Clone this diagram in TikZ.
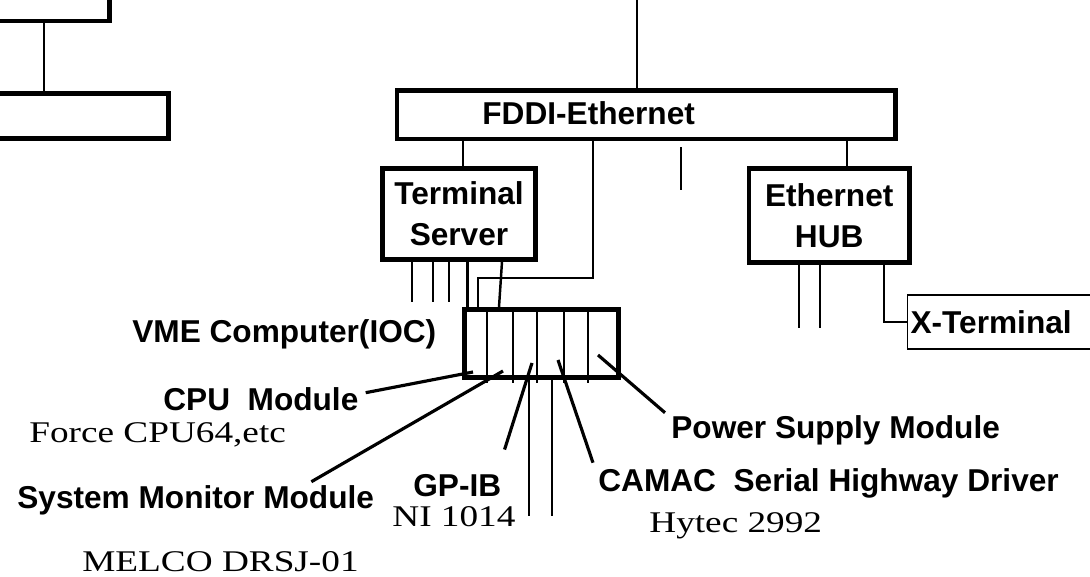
\documentclass[tikz,border=0pt]{standalone}
\usepackage{fontspec}
\newfontfamily\boxfont{Liberation Sans}
\newfontfamily\partfont[FakeStretch=1.24]{Liberation Serif}
\usetikzlibrary{calc}

\begin{document}
\begin{tikzpicture}[
    x=0.02cm, y=-0.02cm,
    unitbox/.style={draw, line width=2.6pt, inner sep=0pt, align=center, font=\boxfont\bfseries\fontsize{18}{23.5}\selectfont},
    termbox/.style={draw, line width=0.7pt, anchor=west, inner xsep=0.06cm, inner ysep=0pt, align=left, font=\boxfont\bfseries\fontsize{18}{22}\selectfont},
    tag/.style={inner sep=0pt, anchor=base west, font=\boxfont\bfseries\fontsize{18}{22}\selectfont},
    model/.style={inner sep=0pt, anchor=base west, font=\partfont\fontsize{17.1}{20}\selectfont},
    wire/.style={line width=1.4pt},
    stubline/.style={line width=0.75pt},
    slotline/.style={line width=1.5pt},
    leaderline/.style={line width=1.8pt}
]
\useasboundingbox (0,0) rectangle (1090,577);
\clip (0,0) rectangle (1090,577);

% Rede existente (cortada)
\node[unitbox, minimum width=3.39cm, minimum height=1.62cm] (hostA) at (24.75,-19.5) {};
\node[unitbox, minimum width=4.57cm, minimum height=0.9cm] (hostB) at (54.25,116) {};
\draw[wire] (hostA.south -| 44,0) -- (hostB.north -| 44,0);

% FDDI
\coordinate (ring) at (637,0);
\node[unitbox, minimum width=9.97cm, minimum height=0.97cm] (fddi) at (646.25,114.75) {};
\node[tag] (fddilabel) at (482,125) {FDDI-Ethernet};
\draw[wire] (ring) -- (fddi.north -| ring);
\draw[stubline] (fddi.south -| 681,0) ++(0,6) -- ++(0,43);

% Terminal Server e HUB
\node[unitbox, minimum width=3.06cm, minimum height=1.82cm] (ts) at (459,214) {Terminal\\Server};
\node[unitbox, minimum width=3.21cm, minimum height=1.88cm] (hub) at (829.25,215.5) {Ethernet\\HUB};
\draw[wire] (fddi.south -| 463,0) -- (ts.north -| 463,0);
\draw[wire] (fddi.south -| 847,0) -- (hub.north -| 847,0);
\foreach \x in {412,433,449} \draw[stubline] (ts.south -| \x,0) -- ++(0,40);

% X-Terminal
\node[termbox, minimum height=1.08cm, text width=3.74cm] (xterm) at (907,322) {X-Terminal};
\foreach \x in {799,820} \draw[stubline] (hub.south -| \x,0) -- ++(0,63);
\draw[stubline] (hub.south -| 884,0) |- (xterm.west);

% VME (IOC)
\node[unitbox, minimum width=3.08cm, minimum height=1.36cm] (vme) at (541.5,343.5) {};
\node[tag] (vmelabel) at (132,343) {VME Computer(IOC)};
\foreach \x in {487,513,537,564,588} \draw[slotline] (vme.north -| \x,0) -- (\x,383);
\draw[wire] (ts.south -| 467.5,0) -- (vme.north -| 467.5,0);
\draw[wire] (ts.south -| 502,0) -- (vme.north -| 499,0);
\draw[wire] (fddi.south -| 593,0) |- (478,278) -- (vme.north -| 478,0);
\foreach \x in {529,552} \draw[stubline] (vme.south -| \x,0) -- (\x,516);

% Modulos
\node[tag] (cpu) at (163,411) {CPU\ \ Module};
\node[model] (cpumodel) at (29,443) {Force CPU64,etc};
\node[tag] (sysmon) at (17,509) {System Monitor Module};
\node[model] (sysmonmodel) at (82,572) {MELCO DRSJ-01};
\node[tag] (gpib) at (413,497) {GP-IB};
\node[model] (gpibmodel) at (392,527) {NI 1014};
\node[tag] (camac) at (598,492) {CAMAC\ \ Serial Highway Driver};
\node[model] (camacmodel) at (649,533) {Hytec 2992};
\node[tag] (power) at (671,439) {Power Supply Module};

% Ligacoes modulo -> slot
\coordinate (pcpu) at (473,372);
\coordinate (psys) at (503,371);
\coordinate (pgpib) at (532,363);
\coordinate (pcamac) at (558,360);
\coordinate (ppower) at (598,355);
\draw[leaderline] (pcpu) -- ([shift={(7,-7)}]cpu.east);
\draw[leaderline] (psys) -- ([shift={(-63,-4)}]sysmon.north east);
\draw[leaderline] (pgpib) -- ([shift={(3,-25)}]gpib.north east);
\draw[leaderline] (pcamac) -- ([shift={(-5,-6)}]camac.north west);
\draw[leaderline] (ppower) -- ([shift={(-6,-3)}]power.north west);

\end{tikzpicture}
\end{document}
